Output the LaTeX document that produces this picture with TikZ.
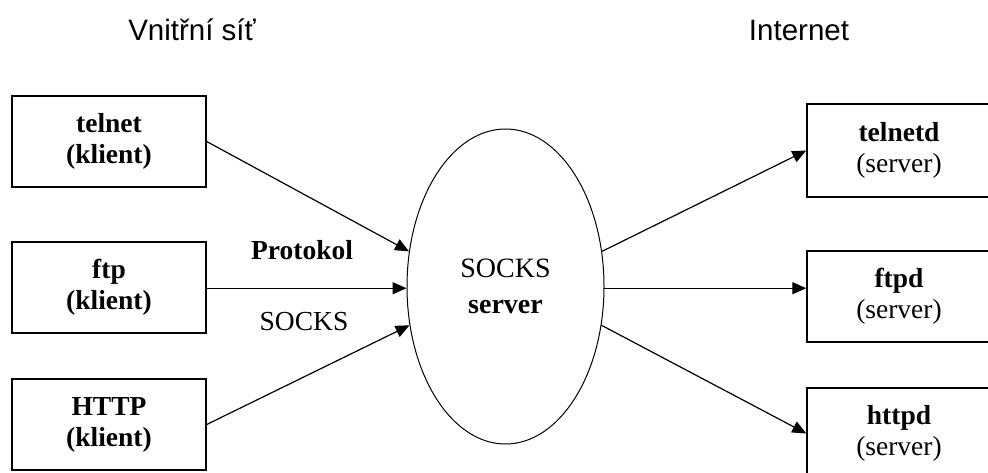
\documentclass[tikz,border=0pt]{standalone}
\usepackage{fontspec}
\setmainfont{Liberation Serif}
\newfontfamily\titlefont{Liberation Sans}
\usetikzlibrary{shapes.geometric,arrows.meta}

\tikzset{
  box/.style={draw, line width=1.4pt, minimum height=91pt, inner sep=0pt,
    align=center, font=\fontsize{27.5}{31}\selectfont},
  cloud/.style={draw, ellipse, line width=1pt, minimum width=197pt,
    minimum height=315pt, inner sep=0pt, align=center,
    font=\fontsize{28}{36}\selectfont},
  flow/.style={line width=1.2pt, -{Triangle[length=14pt,width=12pt]}},
  heading/.style={font=\titlefont\fontsize{29.5}{34}\selectfont},
  tag/.style={font=\fontsize{27.5}{31}\selectfont, inner sep=0pt}
}

\begin{document}
\begin{tikzpicture}[x=1pt,y=-1pt]
\path[use as bounding box, clip] (0,0) rectangle (988,473);

% column headings
\node[heading] (hin)  at (192,30) {Vnitřní síť};
\node[heading] (hout) at (799,30) {Internet};

% clients on the inner network
\node[box, minimum width=194pt] (telnet) at (109,141.5) {\textbf{telnet}\\\textbf{(klient)}};
\node[box, minimum width=194pt] (ftp)    at (109,287.5) {\textbf{ftp}\\\textbf{(klient)}};
\node[box, minimum width=194pt] (http)   at (109,424.5) {\textbf{HTTP}\\\textbf{(klient)}};

% the proxy
\node[cloud] (sock) at (505.5,286.5) {SOCKS\\\textbf{server}};

% servers on the Internet
\node[box, minimum width=184pt, minimum height=93pt] (telnetd) at (899,150.5) {\textbf{telnetd}\\(server)};
\node[box, minimum width=184pt] (ftpd)  at (899,296.5) {\textbf{ftpd}\\(server)};
\node[box, minimum width=184pt] (httpd) at (899,433.5) {\textbf{httpd}\\(server)};

% protocol label
\node[tag] (lproto) at (302,250) {\textbf{Protokol}};
\node[tag] (lsocks) at (304,322) {SOCKS};

% client connections
\draw[flow] (telnet.east) -- (sock.160);
\draw[flow] (ftp.east |- sock.181) -- (sock.181);
\draw[flow] (http.east) -- (sock.202);

% outgoing connections
\draw[flow] (sock.20) -- (telnetd.west);
\draw[flow] (sock.359) -- (sock.359 -| ftpd.west);
\draw[flow] (sock.338) -- (httpd.west);
\end{tikzpicture}
\end{document}
